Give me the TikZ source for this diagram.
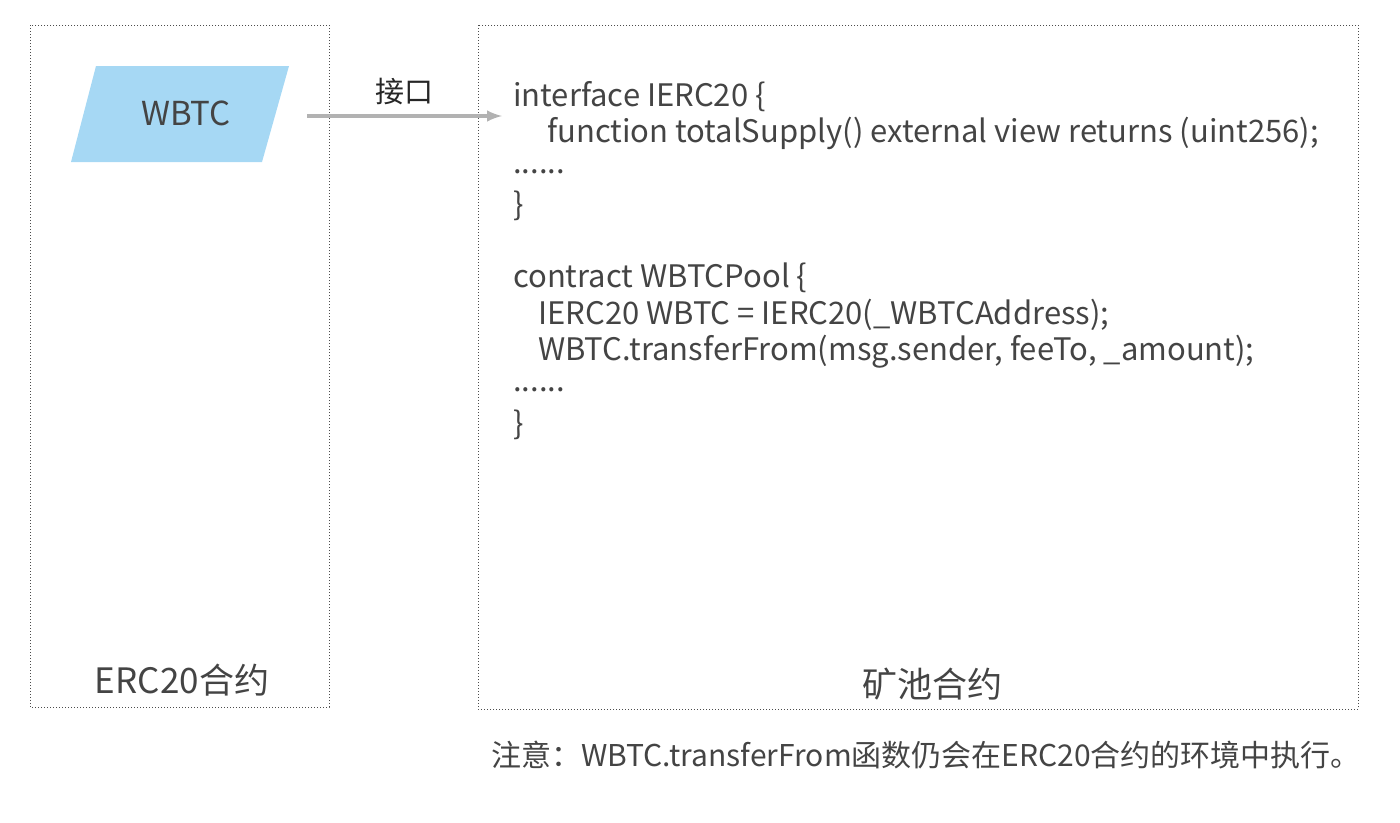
\documentclass[tikz,border=0pt]{standalone}
\usepackage{fontspec}
\setmainfont{Noto Sans CJK SC}
\usetikzlibrary{shapes.geometric}
\definecolor{txt}{HTML}{444444}
\definecolor{wb}{HTML}{A6D8F4}
\tikzset{box/.style={draw=black!70,dotted,line width=1pt},
code/.style={anchor=west,text=txt,font=\fontsize{31}{34}\selectfont,inner sep=0pt}}
\begin{document}
\begin{tikzpicture}[x=1pt,y=-1pt]
\useasboundingbox (0,0) rectangle (1400,822);
\draw[box] (30,25) rectangle (329,707);
\draw[box] (478,25) rectangle (1358,709);
\fill[wb] (96,66) -- (289,66) -- (262,162) -- (71,162) -- cycle;
\node[text=txt,font=\fontsize{33}{38}\selectfont] (w) at (186,113) {WBTC};
\coordinate (a1) at (307,116); \coordinate (a2) at (502,116);
\draw[gray!60,line width=4pt,-latex] (a1) -- (a2);
\node[text=black!85,font=\fontsize{29}{32}\selectfont] (jk) at (404,92) {接口};
\node[code] (l1) at (513,97) {interface IERC20 \{};
\node[code] (l2) at (547,133) {function totalSupply() external view returns (uint256);};
\node[code] (l3) at (513,172) {......};
\node[code] (l4) at (513,206) {\}};
\node[code] (l5) at (513,278) {contract WBTCPool \{};
\node[code] (l6) at (538,315) {IERC20 WBTC = IERC20(\_WBTCAddress);};
\node[code] (l7) at (538,352) {WBTC.transferFrom(msg.sender, feeTo, \_amount);};
\node[code] (l8) at (513,390) {......};
\node[code] (l9) at (513,425) {\}};
\node[text=txt,font=\fontsize{35}{40}\selectfont] (e) at (182,680) {ERC20合约};
\node[text=txt,font=\fontsize{35}{40}\selectfont] (k) at (932,684) {矿池合约};
\node[code,font=\fontsize{30}{34}\selectfont] (n) at (491,755) {注意：WBTC.transferFrom函数仍会在ERC20合约的环境中执行。};
\end{tikzpicture}
\end{document}
